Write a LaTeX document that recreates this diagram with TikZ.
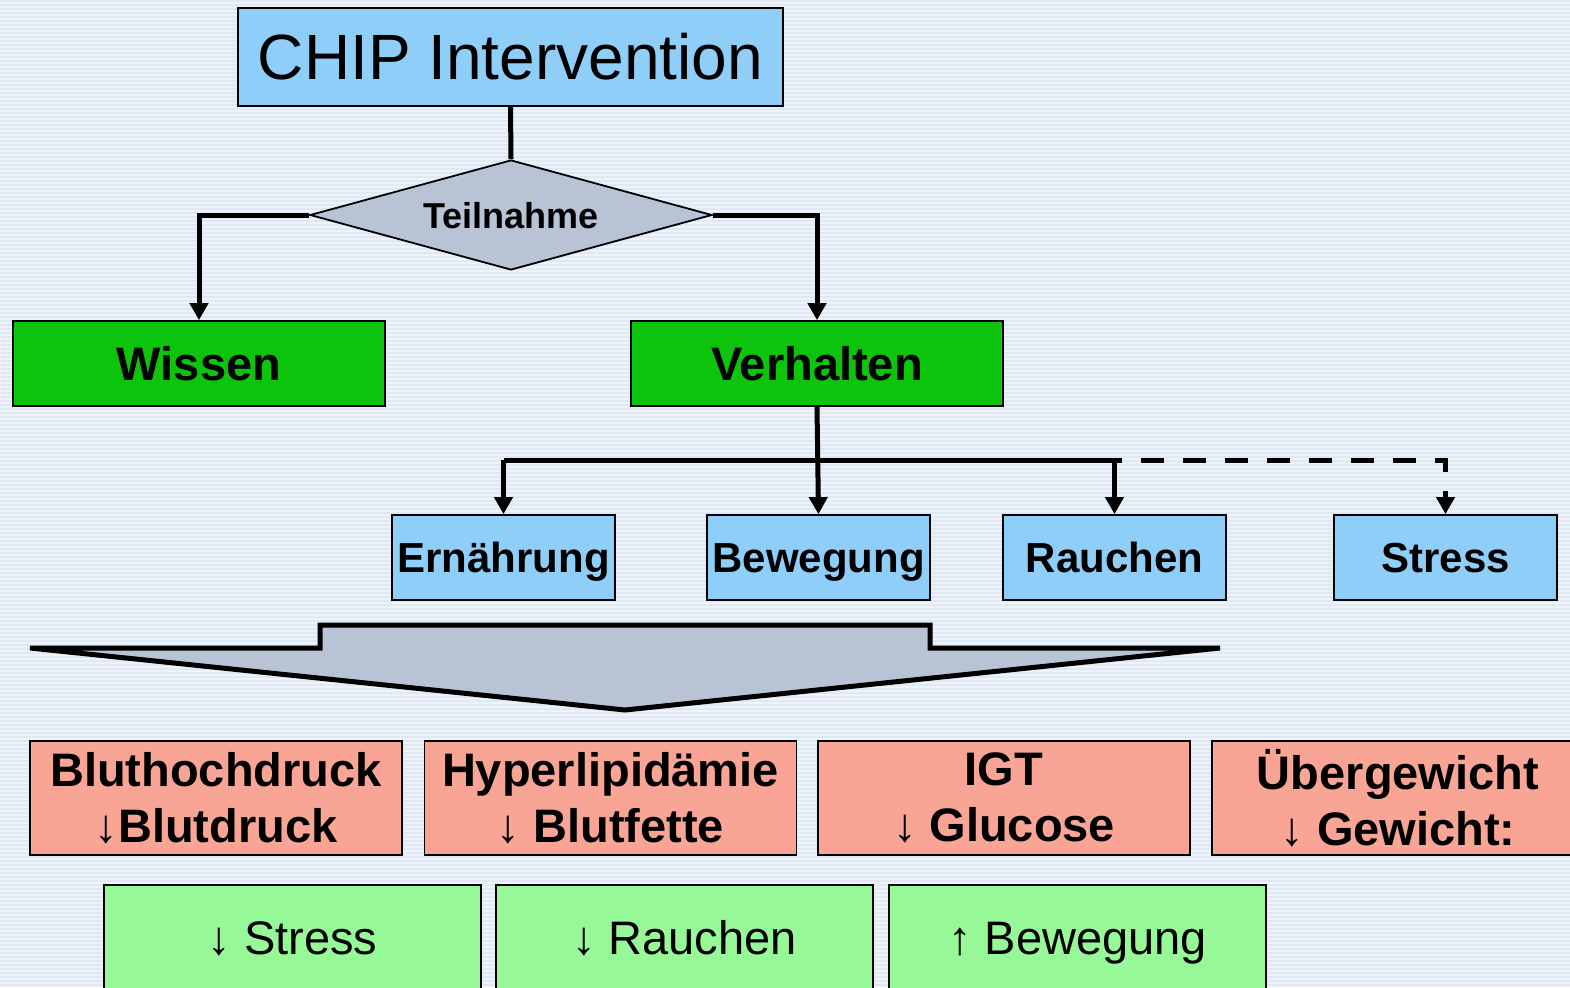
\documentclass[tikz,border=0pt]{standalone}
\usepackage{fontspec}
\setmainfont{Liberation Sans}
\usetikzlibrary{shapes.geometric,arrows.meta}
\definecolor{bgA}{HTML}{EEF3FA}
\definecolor{bgB}{HTML}{DFE9F5}
\definecolor{lblue}{HTML}{8FCEF8}
\definecolor{dgreen}{HTML}{0CC40C}
\definecolor{grayblue}{HTML}{B8C4D6}
\definecolor{salmon}{HTML}{F8A595}
\definecolor{lgreen}{HTML}{96F896}
\begin{document}
\begin{tikzpicture}[x=1pt,y=-1pt,
  box/.style={draw=black, line width=1.8pt, inner sep=0pt, align=center},
  oneline/.style={text height=#1, text depth=0pt},
  conn/.style={line width=5pt, draw=black},
  tip/.style={-{Triangle[length=17pt,width=18pt]}},
  bigfont/.style={font=\fontsize{47}{56}\selectfont\bfseries},
  midfont/.style={font=\fontsize{42}{50}\selectfont\bfseries},
  plainfont/.style={font=\fontsize{47}{56}\selectfont},
  bluebox/.style={box, oneline=30pt, fill=lblue, minimum width=223pt, minimum height=85pt, midfont},
  greenbox/.style={box, oneline=34pt, fill=dgreen, minimum width=372pt, minimum height=85pt, bigfont},
  redbox/.style={box, fill=salmon, minimum width=372pt, minimum height=114pt, bigfont},
  lgbox/.style={box, text height=34pt, text depth=6pt, fill=lgreen, minimum width=377pt, minimum height=110pt, plainfont}
]
\path[use as bounding box] (0,0) rectangle (1570,987);
\clip (0,0) rectangle (1570,987);
\fill[bgA] (0,0) rectangle (1570,987);
\foreach \i in {0,...,246} \draw[bgB, line width=2pt] (0,4*\i+1) -- (1570,4*\i+1);

% top
\node[box, oneline=46pt, fill=lblue, minimum width=545pt, minimum height=98pt, font=\fontsize{64}{70}\selectfont] (chip) at (510.5,57) {CHIP Intervention};
\node[diamond, aspect=3.65, draw=black, line width=1.8pt, fill=grayblue, minimum width=402pt, minimum height=110pt, inner sep=0pt, oneline=26pt, font=\fontsize{36}{40}\selectfont\bfseries] (teil) at (511,215) {Teilnahme};

\node[greenbox] (wissen) at (199,363.5) {Wissen};
\node[greenbox] (verh) at (817,363.5) {Verhalten};

\node[bluebox] (ern) at (503.5,557.5) {Ernährung};
\node[bluebox] (bew) at (818.5,557.5) {Bewegung};
\node[bluebox] (rau) at (1114.5,557.5) {Rauchen};
\node[bluebox] (str) at (1445.5,557.5) {Stress};

% connectors
\draw[conn] (chip.south) -- (teil.north);
\draw[conn, tip] (teil.west) -| (wissen.north);
\draw[conn, tip] (teil.east) -| (verh.north);
\coordinate (bus) at (818,460);
\draw[conn, tip] (verh.south) -- (bew.north);
\draw[conn] (bus -| ern.north) -- (bus -| rau.north);
\draw[conn, tip] (bus -| ern.north) -- (ern.north);
\draw[conn, tip] (bus -| rau.north) -- (rau.north);
\draw[conn, tip, dash pattern=on 23pt off 19pt, dash phase=-26pt] (bus -| rau.north) -- (bus -| str.north) -- (str.north);

% big arrow
\draw[line width=5pt, fill=grayblue, line join=miter] (30,648) -- (320,648) -- (320,625) -- (930,625) -- (930,648) -- (1220,648) -- (625,710) -- cycle;

% red boxes
\node[redbox] (blut) at (216,798) {Bluthochdruck\\↓Blutdruck};
\node[redbox] (hyper) at (610.5,798) {Hyperlipidämie\\↓ Blutfette};
\node[redbox] (igt) at (1004,798) {IGT\\↓ Glucose};
\node[redbox] (ueber) at (1398,798) {Übergewicht\\↓ Gewicht:};

% light green boxes
\node[lgbox] (gstress) at (292.5,940) {↓ Stress};
\node[lgbox] (grauch) at (684.5,940) {↓ Rauchen};
\node[lgbox] (gbew) at (1077.5,940) {↑ Bewegung};
\end{tikzpicture}
\end{document}
